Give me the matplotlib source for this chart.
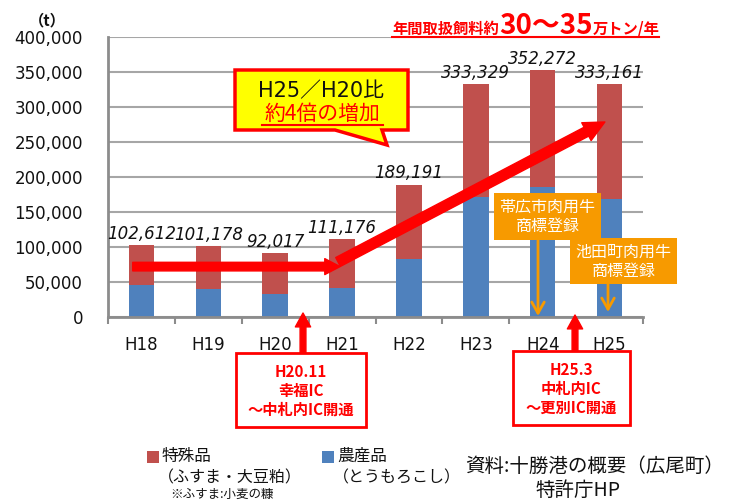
import matplotlib
matplotlib.use('Agg')
import matplotlib.pyplot as plt
import numpy as np
from matplotlib.patches import Polygon, Rectangle
from matplotlib.lines import Line2D

# ---------------- data ----------------
years = ['H18', 'H19', 'H20', 'H21', 'H22', 'H23', 'H24', 'H25']
totals = [102612, 101178, 92017, 111176, 189191, 333329, 352272, 333161]
agri = [45300, 39600, 32400, 41000, 82400, 171900, 186200, 168100]   # 農産品（とうもろこし）
special = [t - a for t, a in zip(totals, agri)]                      # 特殊品（ふすま・大豆粕）
yticks = list(range(0, 400001, 50000))
flat_arrow_x = [-0.13, 2.97]
flat_arrow_y = [72000, 72000]
rise_arrow_x = [2.94, 6.93]
rise_arrow_y = [78600, 278600]

W, H = 744, 501
CJK = ['Noto Sans CJK JP', 'DejaVu Sans']
MIX = ['DejaVu Sans', 'Noto Sans CJK JP']
plt.rcParams['font.family'] = MIX

RED_BAR = '#C0504D'
BLUE_BAR = '#4F81BD'
ORANGE = '#F79A00'

fig = plt.figure(figsize=(W / 100, H / 100), dpi=100)
fig.patch.set_facecolor('white')
ax = fig.add_axes([108 / W, (H - 317) / H, 535 / W, 280 / H])

x = np.arange(len(years))
ax.bar(x, agri, width=0.38, color=BLUE_BAR, zorder=2)
ax.bar(x, special, bottom=agri, width=0.38, color=RED_BAR, zorder=2)

ax.set_xlim(-0.5, 7.5)
ax.set_ylim(0, 400000)
ax.set_yticks(yticks)
ax.set_yticklabels([f'{v:,}' for v in yticks])
ax.yaxis.grid(True, color='#A6A6A6', lw=1.5)
ax.set_axisbelow(True)
for s in ['top', 'right']:
    ax.spines[s].set_visible(False)
for s in ['left', 'bottom']:
    ax.spines[s].set_color('#8C8C8C')
    ax.spines[s].set_linewidth(2)
ax.tick_params(axis='y', length=0, pad=18, labelsize=12, labelcolor='#111111')
ax.set_xticks(np.arange(-0.5, 8, 1))
ax.set_xticklabels([])
ax.set_xticks(x, minor=True)
ax.set_xticklabels(years, minor=True)
ax.tick_params(axis='x', which='major', length=5, width=1.5, color='#8C8C8C', direction='out')
ax.tick_params(axis='x', which='minor', length=0, pad=14, labelsize=12, labelcolor='#111111')

for i, t in enumerate(totals):
    ax.annotate(f'{t:,}', (i, t), xytext=(0, 1.5), textcoords='offset points',
                ha='center', va='bottom', fontsize=12, fontstyle='italic', color='#111111')

# trend arrows
ax.annotate('', xy=(flat_arrow_x[1], flat_arrow_y[1]), xytext=(flat_arrow_x[0], flat_arrow_y[0]),
            arrowprops=dict(arrowstyle='simple,head_length=1.1,head_width=1.15,tail_width=0.62',
                            color='#FF0000', shrinkA=0, shrinkB=0, mutation_scale=10), zorder=5)
ax.annotate('', xy=(rise_arrow_x[1], rise_arrow_y[1]), xytext=(rise_arrow_x[0], rise_arrow_y[0]),
            arrowprops=dict(arrowstyle='simple,head_length=1.5,head_width=1.45,tail_width=0.72',
                            color='#FF0000', shrinkA=0, shrinkB=0, mutation_scale=10), zorder=5)


def fp(px, py):
    return (px / W, 1 - py / H)


def ftext(px, py, s, **kw):
    return fig.text(px / W, 1 - py / H, s, **kw)


# unit
ftext(47, 20, '（t）', ha='center', va='center', fontsize=11, fontweight='bold', family=CJK, color='#111111')

# title with underline
tx = 392
parts = [('年間取扱飼料約', 11), ('30～35', 20), ('万トン/年', 11)]
for s, fs in parts:
    t = ftext(tx, 34, s, ha='left', va='baseline', fontsize=fs, fontweight='bold', color='#FF0000', family=CJK)
    fig.canvas.draw()
    bb = t.get_window_extent()
    tx = bb.x1
fig.add_artist(Line2D([392 / W, tx / W], [1 - 37 / H, 1 - 37 / H], color='#FF0000', lw=1.5,
                      transform=fig.transFigure))

# callout
pts = [(235, 70), (408, 70), (408, 130), (382, 130), (387, 145), (335, 130), (235, 130)]
fig.add_artist(Polygon([fp(*p) for p in pts], closed=True, facecolor='#FFFF00', edgecolor='#FF0000',
                       lw=2.5, transform=fig.transFigure, zorder=6))
ftext(321, 91, 'H25／H20比', ha='center', va='center', fontsize=15, family=MIX, color='#111111', zorder=7)
ftext(322, 114, '約4倍の増加', ha='center', va='center', fontsize=15, family=CJK, color='#FF0000', zorder=7)
fig.add_artist(Line2D([262 / W, 383 / W], [1 - 125 / H, 1 - 125 / H], color='#FF0000', lw=1.5,
                      transform=fig.transFigure, zorder=7))

# orange boxes and arrows
for (x0, y0, x1, y1, lines, ax_x, tip) in [
        (494, 193, 601, 240, ['帯広市肉用牛', '商標登録'], 538, 316),
        (570, 238, 677, 284, ['池田町肉用牛', '商標登録'], 608, 312)]:
    fig.add_artist(Rectangle(fp(x0, y1), (x1 - x0) / W, (y1 - y0) / H, facecolor=ORANGE,
                             edgecolor='none', transform=fig.transFigure, zorder=4))
    ftext((x0 + x1) / 2, y0 + 14, lines[0], ha='center', va='center', fontsize=11.5, color='white', family=CJK, zorder=5)
    ftext((x0 + x1) / 2, y0 + 33, lines[1], ha='center', va='center', fontsize=11.5, color='white', family=CJK, zorder=5)
    fig.add_artist(matplotlib.patches.FancyArrowPatch(
        (ax_x, H - y1), (ax_x, H - tip), transform=None,
        arrowstyle='->,head_length=0.8,head_width=0.45', color=ORANGE, lw=2,
        mutation_scale=10, shrinkA=0, shrinkB=0, zorder=4))

# red IC boxes and arrows
for (x0, y0, x1, y1, lines, ax_x, tip) in [
        (236, 353, 366, 427, ['H20.11', '幸福IC', '～中札内IC開通'], 303, 313),
        (513, 351, 630, 425, ['H25.3', '中札内IC', '～更別IC開通'], 575, 315)]:
    fig.add_artist(Rectangle(fp(x0, y1), (x1 - x0) / W, (y1 - y0) / H, facecolor='white',
                             edgecolor='#FF0000', lw=2, transform=fig.transFigure, zorder=4))
    for k, s in enumerate(lines):
        ftext((x0 + x1) / 2, y0 + 19 + 19 * k, s, ha='center', va='center', fontsize=11,
              fontweight='bold', color='#FF0000', family=CJK, zorder=5)
    fig.add_artist(matplotlib.patches.FancyArrowPatch(
        (ax_x, H - y0), (ax_x, H - tip), transform=None,
        arrowstyle='simple,head_length=1.0,head_width=1.1,tail_width=0.42', color='#FF0000',
        mutation_scale=10, shrinkA=0, shrinkB=0, zorder=4))

# legend
fig.add_artist(Rectangle(fp(147, 463), 12 / W, 12 / H, facecolor=RED_BAR, edgecolor='none',
                         transform=fig.transFigure))
fig.add_artist(Rectangle(fp(322, 463), 12 / W, 12 / H, facecolor=BLUE_BAR, edgecolor='none',
                         transform=fig.transFigure))
ftext(162, 456, '特殊品', ha='left', va='center', fontsize=12, family=CJK, color='#111111')
ftext(158, 478, '（ふすま・大豆粕）', ha='left', va='center', fontsize=11.5, family=CJK, color='#111111')
ftext(170, 494, '※ふすま:小麦の糠', ha='left', va='center', fontsize=9, family=CJK, color='#111111')
ftext(337, 456, '農産品', ha='left', va='center', fontsize=12, family=CJK, color='#111111')
ftext(333, 478, '（とうもろこし）', ha='left', va='center', fontsize=11.5, family=CJK, color='#111111')

# source
ftext(465, 466, '資料:十勝港の概要（広尾町）', ha='left', va='center', fontsize=14, family=CJK, color='#111111')
ftext(578, 490, '特許庁HP', ha='center', va='center', fontsize=14, family=CJK, color='#111111')

fig.savefig('out.png', dpi=100, facecolor='white')
